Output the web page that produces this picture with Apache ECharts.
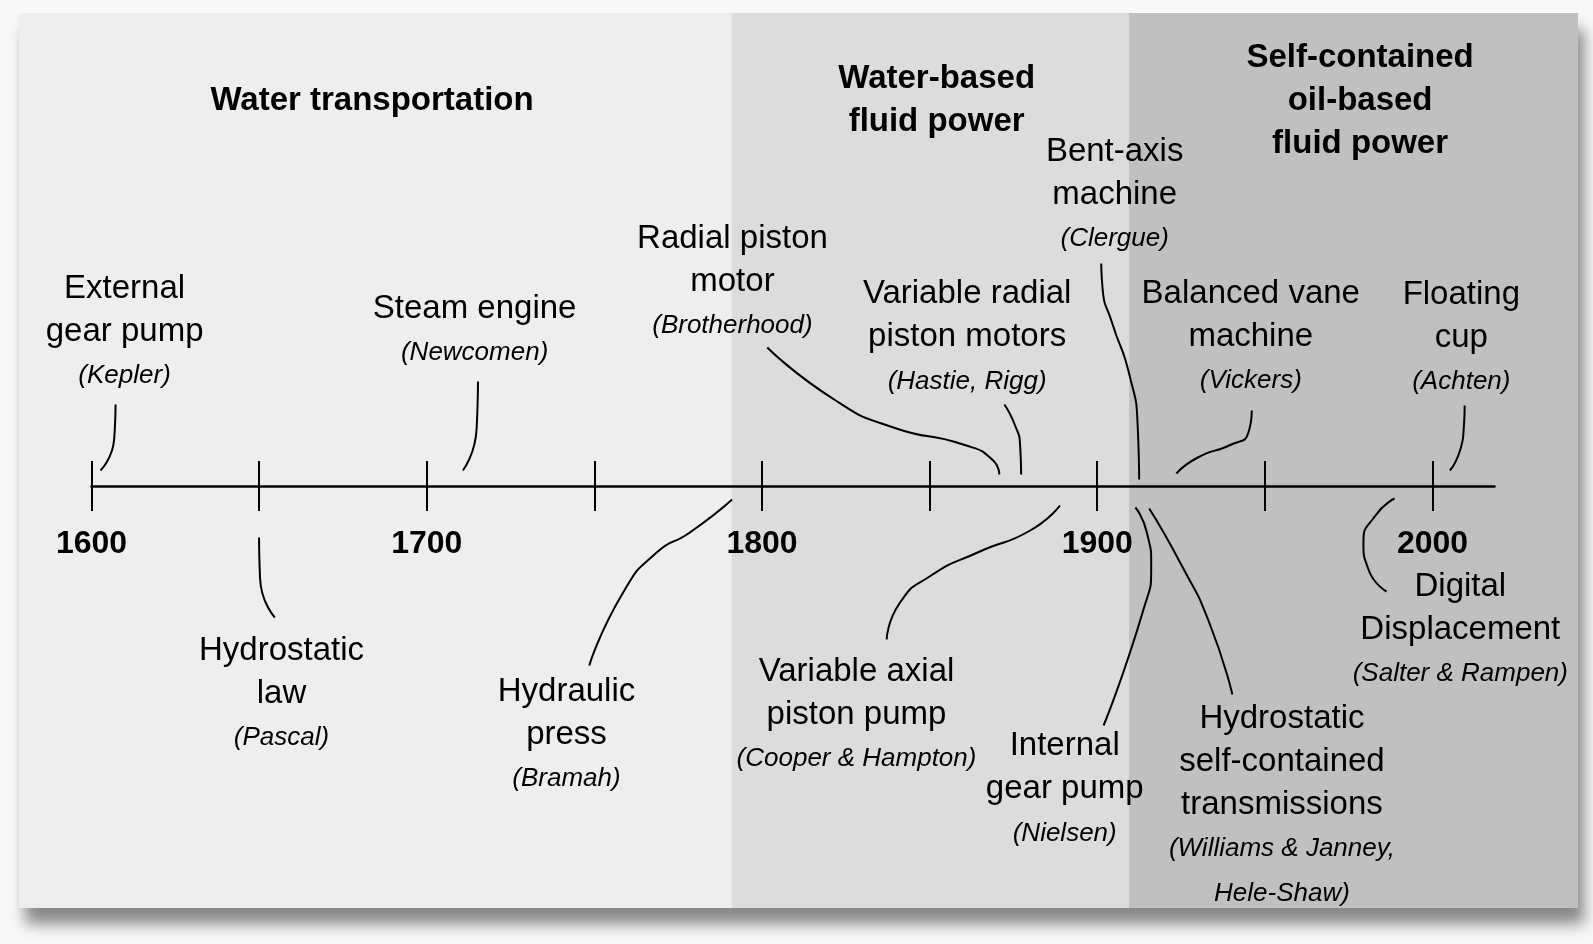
<!DOCTYPE html>
<html>
<head>
<meta charset="utf-8">
<script src="https://cdn.jsdelivr.net/npm/echarts@6/dist/echarts.min.js"></script>
<style>
  html, body { margin: 0; padding: 0; background: #f8f8f8; }
  #chart { width: 1593px; height: 944px; }
</style>
</head>
<body>
<div id="chart"></div>
<script>
// --- timeline data ---------------------------------------------------------
const axisStart = 1600;
const axisEnd = 2018.5;
const tickStep = 50;
const panelYears = [1578.4, 2043.4];

const eraTitles = ['Water transportation', 'Water-based\nfluid power', 'Self-contained\noil-based\nfluid power'];
const eraStart = [1578.4, 1791, 1909.5];
const eraEnd = [1791, 1909.5, 2043.4];

const eventNames = [
  'External\ngear pump', 'Hydrostatic\nlaw', 'Steam engine', 'Hydraulic\npress',
  'Radial piston\nmotor', 'Variable radial\npiston motors', 'Variable axial\npiston pump',
  'Bent-axis\nmachine', 'Balanced vane\nmachine', 'Floating\ncup', 'Internal\ngear pump',
  'Hydrostatic\nself-contained\ntransmissions', 'Digital\nDisplacement'
];
const inventors = [
  '(Kepler)', '(Pascal)', '(Newcomen)', '(Bramah)', '(Brotherhood)', '(Hastie, Rigg)',
  '(Cooper & Hampton)', '(Clergue)', '(Vickers)', '(Achten)', '(Nielsen)',
  '(Williams & Janney,\nHele-Shaw)', '(Salter & Rampen)'
];

// --- layout (year, px above the timeline) ------------------------------------
const eraTitleAt = [[1683.7, 388], [1852.1, 388], [1978.4, 388]];
const labelAt = [
  [1609.9, 155.5], [1656.7, -206], [1714.3, 157], [1741.7, -247.5], [1791.2, 206],
  [1861.2, 150.2], [1828.2, -227.2], [1905.2, 292.5], [1945.8, 151], [2008.6, 149.8],
  [1890.3, -301.8], [1955.1, -318], [2008.3, -142.3]
];
const leaders = [
  [[1607.2, 84], [1606.8, 50], [1602.7, 18]],
  [[1650.0, -49], [1650.3, -90], [1654.7, -129]],
  [[1715.3, 107], [1714.9, 60], [1710.8, 18]],
  [[1791.1, -11], [1778.5, -44], [1768.6, -64], [1758.6, -104], [1748.5, -177]],
  [[1801.6, 141], [1822, 88], [1839.2, 61], [1860, 44], [1869, 28], [1870.8, 14]],
  [[1872.3, 84], [1875.5, 63], [1877.0, 43], [1877.3, 14]],
  [[1888.9, -17], [1880, -42], [1865, -63], [1850, -88], [1841, -115], [1837.2, -151]],
  [[1901.2, 225], [1901.6, 200], [1904.5, 165], [1909.5, 115], [1912.1, 60], [1912.5, 9]],
  [[1946.1, 78], [1945, 55], [1940, 44], [1930, 31], [1923.6, 15]],
  [[2009.6, 83], [2009.3, 59], [2008.3, 39], [2005.2, 18]],
  [[1911.4, -19], [1914.8, -44], [1916.1, -77], [1913.8, -121], [1901.9, -237]],
  [[1915.5, -20], [1925.2, -77], [1933.4, -134], [1940.3, -206]],
  [[1988.7, -10], [1983.0, -27], [1979.4, -54], [1980.9, -81], [1986.3, -103]]
];

const FONT = '"Liberation Sans", Arial, Helvetica, sans-serif';

function richText(name, who) {
  const main = name.split('\n').map(s => '{m|' + s + '}');
  const ital = who.split('\n').map(s => '{i|' + s + '}');
  return main.concat(ital).join('\n');
}

const chart = echarts.init(document.getElementById('chart'), null, { renderer: 'canvas' });

const series = [];

// era shading
series.push({
  type: 'line', xAxisIndex: 0, yAxisIndex: 0, data: [], z: -3, silent: true,
  markArea: {
    silent: true,
    data: [
      [{ xAxis: eraStart[1], itemStyle: { color: '#dcdcdc', opacity: 1 } }, { xAxis: eraEnd[1] }],
      [{ xAxis: eraStart[2], itemStyle: { color: '#c0c0c0', opacity: 1 } }, { xAxis: eraEnd[2] }]
    ]
  }
});

// era titles
series.push({
  type: 'scatter', xAxisIndex: 0, yAxisIndex: 0, symbolSize: 1, silent: true,
  itemStyle: { color: 'transparent', opacity: 1 },
  data: eraTitles.map((t, i) => ({ value: eraTitleAt[i], name: t })),
  label: {
    show: true, position: 'inside', align: 'center', verticalAlign: 'middle', opacity: 1,
    formatter: p => p.name.split('\n').map(s => '{b|' + s + '}').join('\n'),
    rich: { b: { fontFamily: FONT, fontSize: 33, fontWeight: 'bold', color: '#000', lineHeight: 43 } }
  }
});

// event labels
series.push({
  type: 'scatter', xAxisIndex: 0, yAxisIndex: 0, symbolSize: 1, silent: true,
  itemStyle: { color: 'transparent', opacity: 1 },
  data: eventNames.map((n, i) => ({ value: labelAt[i], name: n, who: inventors[i] })),
  label: {
    show: true, position: 'inside', align: 'center', verticalAlign: 'middle', opacity: 1,
    formatter: p => richText(p.name, p.data.who),
    rich: {
      m: { fontFamily: FONT, fontSize: 33, color: '#000', lineHeight: 43, align: 'center' },
      i: { fontFamily: FONT, fontSize: 26, fontStyle: 'italic', color: '#000', lineHeight: 45, align: 'center' }
    }
  }
});

// leader lines
leaders.forEach(pts => {
  series.push({
    type: 'line', xAxisIndex: 0, yAxisIndex: 0, data: pts, smooth: 0.6, symbol: 'none',
    silent: true, lineStyle: { color: '#000', width: 2 }
  });
});

chart.setOption({
  animation: false,
  backgroundColor: '#f8f8f8',
  grid: [
    {
      left: 19, right: 15, top: 13, bottom: 36, z: -5,
      show: true, backgroundColor: '#eeeeee', borderWidth: 0,
      shadowColor: 'rgba(0,0,0,0.45)', shadowBlur: 14, shadowOffsetX: 6, shadowOffsetY: 16
    },
    { left: 91.5, width: 1403, top: 461, height: 50 }
  ],
  xAxis: [
    { type: 'value', gridIndex: 0, min: panelYears[0], max: panelYears[1], show: false },
    {
      type: 'value', gridIndex: 1, min: axisStart, max: axisEnd, interval: tickStep, z: 5,
      axisLine: { show: true, onZero: true, lineStyle: { color: '#000', width: 2.5 } },
      axisTick: { show: false },
      splitLine: { show: true, showMaxLine: false, lineStyle: { color: '#000', width: 2 } },
      axisLabel: {
        margin: 17, fontFamily: FONT, fontSize: 32, fontWeight: 'bold', color: '#000',
        formatter: v => (v % 100 === 0 ? String(v) : '')
      }
    }
  ],
  yAxis: [
    { type: 'value', gridIndex: 0, min: -419.5, max: 475.5, show: false },
    { type: 'value', gridIndex: 1, min: -1, max: 1, show: false }
  ],
  series: series
});
</script>
</body>
</html>
